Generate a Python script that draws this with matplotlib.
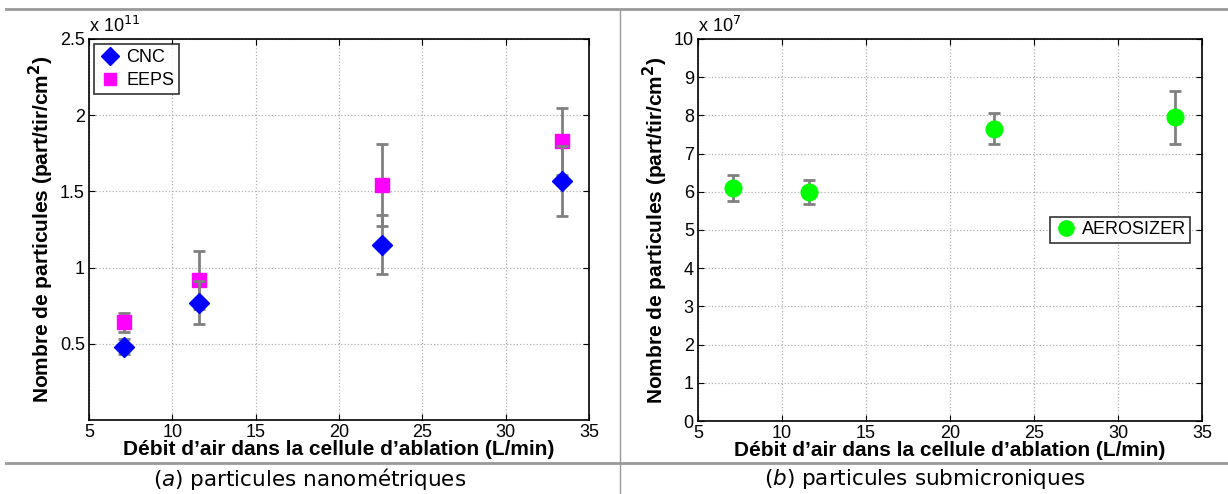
import matplotlib.pyplot as plt
from matplotlib.lines import Line2D
import numpy as np

# debit d'air (L/min)
debit = [7.1, 11.6, 22.6, 33.4]

# (a) nanometriques, x 1e11
cnc = [0.48, 0.77, 1.15, 1.57]
cnc_err = [0.05, 0.14, 0.195, 0.23]
eeps = [0.64, 0.92, 1.54, 1.83]
eeps_err = [0.065, 0.19, 0.27, 0.22]

# (b) submicroniques, x 1e7
aero = [6.1, 6.0, 7.65, 7.95]
aero_err = [0.33, 0.31, 0.40, 0.70]

plt.rcParams['font.family'] = ['Liberation Sans', 'DejaVu Sans']

fig = plt.figure(figsize=(12.28, 4.94), dpi=100)
ax1 = fig.add_axes([89/1228, 1-420/494, 500/1228, 381/494])
ax2 = fig.add_axes([698/1228, 1-421/494, 504/1228, 382/494])

errstyle = dict(ecolor='#808080', elinewidth=2, capsize=4, capthick=2, linestyle='none')

ax1.errorbar(debit, eeps, yerr=eeps_err, marker='s', ms=10, mfc='#ff00ff', mec='#ff00ff',
             zorder=3, **errstyle)
ax1.errorbar(debit, cnc, yerr=cnc_err, marker='D', ms=10, mfc='#0000ff', mec='#0000ff',
             zorder=4, **errstyle)
ax2.errorbar(debit, aero, yerr=aero_err, marker='o', ms=12, mfc='#00ff00', mec='#00ff00',
             zorder=3, **errstyle)

for ax in (ax1, ax2):
    ax.set_xlim(5, 35)
    ax.set_xticks(np.arange(5, 36, 5))
    ax.grid(True, linestyle=':', color='#b0b0b0', linewidth=0.9)
    ax.tick_params(direction='in', top=True, right=True, labelsize=13, length=4, pad=3)
    for s in ax.spines.values():
        s.set_linewidth(1.2)
    ax.set_xlabel("Débit d’air dans la cellule d’ablation (L/min)", fontsize=15,
                  fontweight='bold', labelpad=-1)
    ax.set_ylabel("Nombre de particules (part/tir/cm$^\\mathbf{2}$)", fontsize=15,
                  fontweight='bold', labelpad=3)

ax1.set_ylim(0, 2.5)
ax1.set_yticks([0.5, 1, 1.5, 2, 2.5])
ax1.set_yticklabels(['0.5', '1', '1.5', '2', '2.5'])
ax1.text(0.0, 1.008, 'x 10$^{11}$', transform=ax1.transAxes, fontsize=13, va='bottom')

ax2.set_ylim(0, 10)
ax2.set_yticks(range(0, 11))
ax2.text(0.0, 1.008, 'x 10$^{7}$', transform=ax2.transAxes, fontsize=13, va='bottom')

h1 = [Line2D([], [], ls='none', marker='D', ms=9, mfc='#0000ff', mec='#0000ff'),
      Line2D([], [], ls='none', marker='s', ms=8, mfc='#ff00ff', mec='#ff00ff')]
leg1 = ax1.legend(h1, ['CNC', 'EEPS'], loc='upper left', fontsize=13, frameon=True,
                  fancybox=False, edgecolor='black', borderpad=0.25, handletextpad=0.3,
                  handlelength=1.2, labelspacing=0.35, borderaxespad=0.3)
leg1.get_frame().set_linewidth(1.2)
h2 = [Line2D([], [], ls='none', marker='o', ms=11, mfc='#00ff00', mec='#00ff00')]
leg2 = ax2.legend(h2, ['AEROSIZER'], loc='center right', bbox_to_anchor=(0.995, 0.5),
                  fontsize=13, frameon=True, fancybox=False, edgecolor='black',
                  borderpad=0.25, handletextpad=0.3, handlelength=1.2)
leg2.get_frame().set_linewidth(1.2)

# cadre gris du tableau
for y in (1-9/494, 1-463/494):
    fig.add_artist(Line2D([0.005, 1], [y, y], color='#999999', lw=2))
fig.add_artist(Line2D([620/1228, 620/1228], [0, 1-9/494], color='#999999', lw=1))

fig.text(310/1228, 1-479/494, r'$\it{(a)}$ particules nanométriques', ha='center', va='center',
         fontsize=15.5, family='DejaVu Sans')
fig.text(925/1228, 1-479/494, r'$\it{(b)}$ particules submicroniques', ha='center', va='center',
         fontsize=15.5, family='DejaVu Sans')

fig.savefig('out.png', dpi=100)
